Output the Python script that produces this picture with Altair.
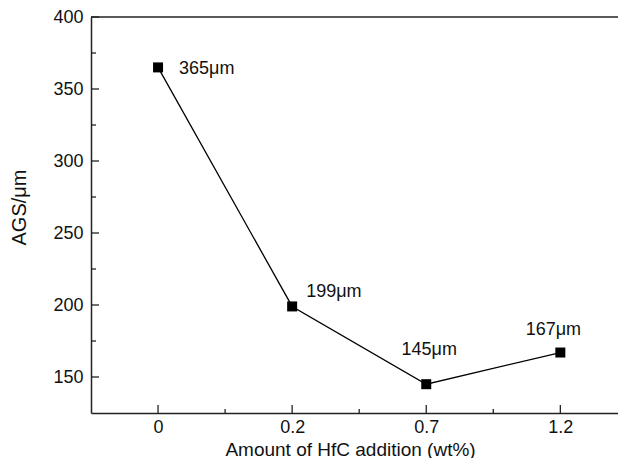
import json
import altair as alt
import pandas as pd

# data
idx = [0, 1, 2, 3]
hfc_labels = ["0", "0.2", "0.7", "1.2"]
ags = [365, 199, 145, 167]
point_text = ["365μm", "199μm", "145μm", "167μm"]

y_major = [150, 200, 250, 300, 350, 400]
y_minor = [175, 225, 275, 325, 375]
x_minor = [0.5, 1.5, 2.5]

W, H = 527, 396
FONT = "Liberation Sans"

df = pd.DataFrame({"i": idx, "lab": hfc_labels, "ags": ags, "txt": point_text})

label_expr = json.dumps(hfc_labels) + "[datum.value]"

xs = alt.Scale(domain=[-0.5, 3.43], nice=False, zero=False)
ys = alt.Scale(domain=[125, 400], nice=False, zero=False)

x_enc = alt.X(
    "i:Q", scale=xs,
    axis=alt.Axis(
        values=idx, labelExpr=label_expr, ticks=False, grid=False,
        domainColor="#222", domainWidth=1.5, labelPadding=5,
        labelFont=FONT, labelFontSize=18, labelColor="#111",
        title="Amount of HfC addition (wt%)", titleFont=FONT, titleFontSize=19,
        titleFontWeight="normal", titleColor="#111",
        titleX=259, titleY=36, titleAlign="center", titleBaseline="middle",
    ),
)
y_enc = alt.Y(
    "ags:Q", scale=ys,
    axis=alt.Axis(
        values=y_major, ticks=False, grid=False,
        domainColor="#222", domainWidth=1.5, labelPadding=8,
        labelFont=FONT, labelFontSize=18, labelColor="#111",
        title="AGS/μm", titleFont=FONT, titleFontSize=20,
        titleFontWeight="normal", titleColor="#111",
        titleAngle=270, titleX=-72, titleY=190, titleAlign="center",
        titleBaseline="middle",
    ),
)

base = alt.Chart(df)

line = base.mark_line(color="black", strokeWidth=1.3).encode(x=x_enc, y=y_enc)
pts = base.mark_square(color="black", opacity=1, size=100).encode(x="i:Q", y="ags:Q")

offsets = [(21, 2, "left"), (14, -14, "left"), (3, -34, "center"), (-7, -23, "center")]
texts = []
for k, (dx, dy, al) in enumerate(offsets):
    texts.append(
        alt.Chart(df.iloc[[k]]).mark_text(
            font=FONT, fontSize=18, color="#111", dx=dx, dy=dy, align=al, baseline="middle"
        ).encode(x="i:Q", y="ags:Q", text="txt:N")
    )

ymaj = alt.Chart(pd.DataFrame({"v": y_major})).mark_rule(color="#222", strokeWidth=1.3).encode(
    y=alt.Y("v:Q", scale=ys), x=alt.value(0), x2=alt.value(8))
ymin = alt.Chart(pd.DataFrame({"v": y_minor})).mark_rule(color="#222", strokeWidth=1.3).encode(
    y=alt.Y("v:Q", scale=ys), x=alt.value(0), x2=alt.value(5))
xmaj = alt.Chart(pd.DataFrame({"v": idx})).mark_rule(color="#222", strokeWidth=1.3).encode(
    x=alt.X("v:Q", scale=xs), y=alt.value(H), y2=alt.value(H - 8))
xmin = alt.Chart(pd.DataFrame({"v": x_minor})).mark_rule(color="#222", strokeWidth=1.3).encode(
    x=alt.X("v:Q", scale=xs), y=alt.value(H), y2=alt.value(H - 4))
top = alt.Chart(pd.DataFrame({"v": [0]})).mark_rule(color="#222", strokeWidth=1.5).encode(
    y=alt.value(0), x=alt.value(0), x2=alt.value(W))

chart = alt.layer(line, pts, *texts, ymaj, ymin, xmaj, xmin, top).properties(
    width=W, height=H,
    autosize=alt.AutoSizeParams(type="none"),
    padding={"left": 83, "top": 9, "right": 0, "bottom": 45},
    background="white",
).configure_view(stroke=None)

chart.save("out.html", embed_options={"renderer": "svg", "actions": False})
